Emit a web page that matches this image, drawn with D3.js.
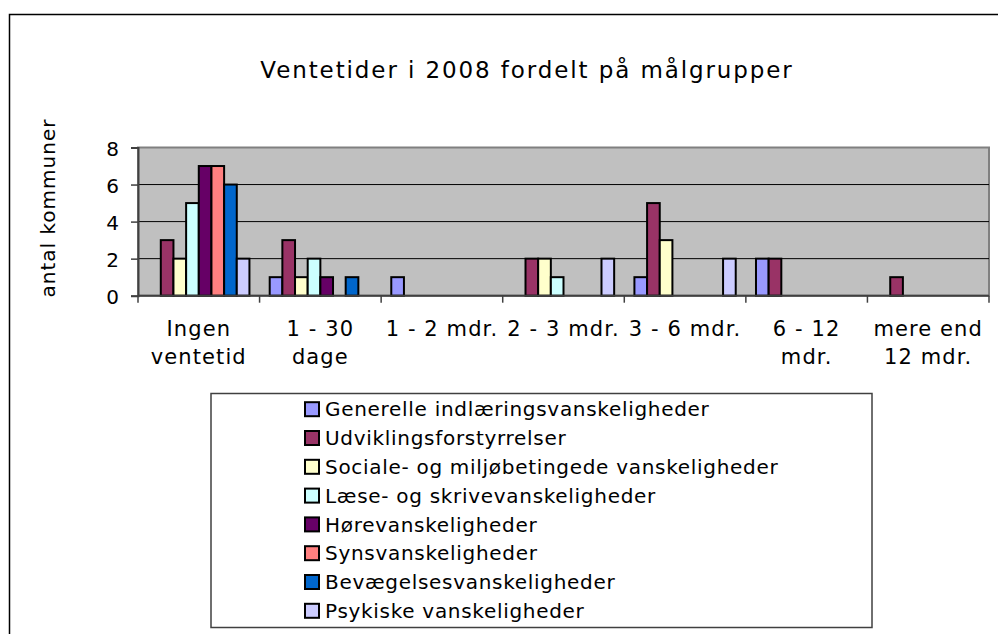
<!DOCTYPE html>
<html>
<head>
<meta charset="utf-8">
<script src="https://cdn.jsdelivr.net/npm/d3@7"></script>
<style>
  html, body { margin: 0; padding: 0; background: #fff; }
  svg { display: block; }
  text { font-family: "DejaVu Sans", Verdana, sans-serif; fill: #000; }
</style>
</head>
<body>
<svg id="chart" width="998" height="634"></svg>
<script>
// ---- data ----
const title = "Ventetider i 2008 fordelt på målgrupper";
const yTitle = "antal kommuner";
const categories = ["Ingen ventetid", "1 - 30 dage", "1 - 2 mdr.", "2 - 3 mdr.", "3 - 6 mdr.", "6 - 12 mdr.", "mere end 12 mdr."];
const categoryLines = [["Ingen", "ventetid"], ["1 - 30", "dage"], ["1 - 2 mdr."], ["2 - 3 mdr."], ["3 - 6 mdr."], ["6 - 12", "mdr."], ["mere end", "12 mdr."]];
const seriesNames = ["Generelle indlæringsvanskeligheder", "Udviklingsforstyrrelser", "Sociale- og miljøbetingede vanskeligheder", "Læse- og skrivevanskeligheder", "Hørevanskeligheder", "Synsvanskeligheder", "Bevægelsesvanskeligheder", "Psykiske vanskeligheder"];
const seriesColors = ["#9999FF", "#993366", "#FFFFCC", "#CCFFFF", "#660066", "#FF8080", "#0066CC", "#CCCCFF"];
// values per series, one per category
const generelle   = [0, 1, 1, 0, 1, 2, 0];
const udvikling   = [3, 3, 0, 2, 5, 2, 1];
const sociale     = [2, 1, 0, 2, 3, 0, 0];
const laese       = [5, 2, 0, 1, 0, 0, 0];
const hoere       = [7, 1, 0, 0, 0, 0, 0];
const syns        = [7, 0, 0, 0, 0, 0, 0];
const bevaegelse  = [6, 1, 0, 0, 0, 0, 0];
const psykiske    = [2, 0, 0, 2, 2, 0, 0];
const seriesValues = [generelle, udvikling, sociale, laese, hoere, syns, bevaegelse, psykiske];
const yTicks = [0, 2, 4, 6, 8];

// ---- layout ----
const svg = d3.select("#chart");
const plot = { left: 138, right: 989, top: 147.5, bottom: 295.7 };

// outer chart border
svg.append("rect").attr("x", 9.5).attr("y", 14.5).attr("width", 1000).attr("height", 700)
  .attr("fill", "#fff").attr("stroke", "#000").attr("stroke-width", 1.5);

const x0 = d3.scaleBand().domain(categories).range([plot.left, plot.right]).padding(0);
const x1 = d3.scaleBand().domain(seriesNames).range([0, x0.bandwidth()]).paddingInner(0).paddingOuter(0.8);
const y = d3.scaleLinear().domain([0, 8]).range([plot.bottom, plot.top]);

// plot background
svg.append("rect").attr("x", plot.left).attr("y", plot.top)
  .attr("width", plot.right - plot.left).attr("height", plot.bottom - plot.top)
  .attr("fill", "#C0C0C0").attr("stroke", "#808080").attr("stroke-width", 2);

// gridlines
svg.append("g").selectAll("line").data(yTicks.filter(d => d > 0 && d < 8)).join("line")
  .attr("x1", plot.left).attr("x2", plot.right)
  .attr("y1", d => y(d)).attr("y2", d => y(d))
  .attr("stroke", "#000").attr("stroke-width", 1);

// bars
const groups = svg.append("g").selectAll("g").data(seriesNames).join("g")
  .attr("fill", (d, i) => seriesColors[i]);
groups.selectAll("rect")
  .data((s, si) => categories.map((c, ci) => ({ c, s, v: seriesValues[si][ci] })).filter(d => d.v > 0))
  .join("rect")
  .attr("x", d => x0(d.c) + x1(d.s))
  .attr("y", d => y(d.v))
  .attr("width", x1.bandwidth())
  .attr("height", d => y(0) - y(d.v))
  .attr("stroke", "#000").attr("stroke-width", 2);

// y axis
const yAxis = d3.axisLeft(y).tickValues(yTicks).tickSize(7).tickPadding(12).tickFormat(d3.format("d"));
const gy = svg.append("g").attr("transform", `translate(${plot.left},0)`).call(yAxis);
gy.select(".domain").attr("stroke", "#404040").attr("stroke-width", 2);
gy.selectAll(".tick line").attr("stroke", "#404040").attr("stroke-width", 1.5);
gy.selectAll(".tick text").attr("font-size", 20).attr("font-family", "DejaVu Sans").attr("dy", "0.4em");

// x axis
const gx = svg.append("g").attr("transform", `translate(0,${plot.bottom})`);
gx.append("line").attr("x1", plot.left).attr("x2", plot.right).attr("stroke", "#404040").attr("stroke-width", 2);
const xTickPos = categories.map(c => x0(c)).concat([x0(categories[categories.length - 1]) + x0.bandwidth()]);
gx.selectAll(".xt").data(xTickPos).join("line").attr("class", "xt")
  .attr("x1", d => d).attr("x2", d => d).attr("y1", 0).attr("y2", 7)
  .attr("stroke", "#404040").attr("stroke-width", 1.5);
const xl = gx.selectAll(".xl").data(categories).join("text").attr("class", "xl")
  .attr("text-anchor", "middle").attr("font-size", 21).attr("letter-spacing", 1.1);
xl.selectAll("tspan").data((c, i) => categoryLines[i].map(l => ({ l, c }))).join("tspan")
  .attr("x", d => x0(d.c) + x0.bandwidth() / 2)
  .attr("y", (d, i) => 40.5 + i * 27.5)
  .text(d => d.l);

// title
svg.append("text").attr("x", 527).attr("y", 78).attr("text-anchor", "middle")
  .attr("font-size", 23).attr("letter-spacing", 1.9).text(title);

// y title
svg.append("text").attr("transform", "translate(55,208) rotate(-90)").attr("text-anchor", "middle")
  .attr("font-size", 20).attr("letter-spacing", 1).text(yTitle);

// legend
const leg = { x: 211, y: 393.5, w: 661, h: 234 };
svg.append("rect").attr("x", leg.x).attr("y", leg.y).attr("width", leg.w).attr("height", leg.h)
  .attr("fill", "#fff").attr("stroke", "#404040").attr("stroke-width", 1.5);
const ly = d3.scalePoint().domain(seriesNames).range([409.2, 610.8]);
const li = svg.append("g").selectAll("g").data(seriesNames).join("g")
  .attr("transform", d => `translate(0,${ly(d)})`);
li.append("rect").attr("x", 305).attr("y", -7).attr("width", 14).attr("height", 14)
  .attr("fill", (d, i) => seriesColors[i]).attr("stroke", "#000").attr("stroke-width", 2);
li.append("text").attr("x", 325).attr("y", 0).attr("dy", "0.36em")
  .attr("font-size", 20).attr("letter-spacing", 0.7).text(d => d);
</script>
</body>
</html>
